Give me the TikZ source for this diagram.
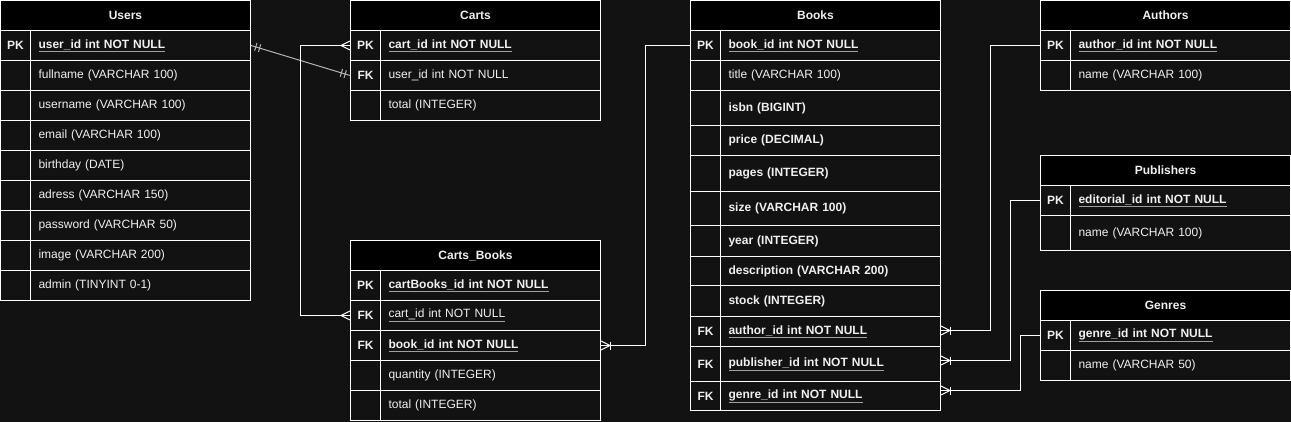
\documentclass[tikz,border=0pt]{standalone}
\usepackage{fontspec}
\setmainfont{Liberation Sans}
\usetikzlibrary{calc}
\definecolor{bg}{HTML}{121212}
\definecolor{txt}{HTML}{F0F0F0}
\definecolor{ulc}{HTML}{A0A0A0}
\definecolor{lnk}{HTML}{B4B4B4}
\newcommand\uln[1]{{\color{ulc}\underline{\color{txt}#1}}}
\newcommand\erow[6]{%
  \node[keyc, minimum height=#4pt] (#1k) at (#2,#3) {#5};
  \node[fldc, minimum height=#4pt] (#1) at (#2+30,#3) {#6};}
\newcommand\erbar[4][mk]{\draw[#1] ($(#2)!#4!(#3)!4pt!90:(#3)$) -- ($(#2)!#4!(#3)!4pt!-90:(#3)$);}
\newcommand\ercrow[3][mk]{\draw[#1] ($(#2)!4.5pt!90:(#3)$) -- ($(#2)!9pt!(#3)$) -- ($(#2)!4.5pt!-90:(#3)$);}
\tikzset{
  cellfont/.style={font=\fontsize{12pt}{14pt}\selectfont},
  hdr/.style={draw=white, fill=black, line width=1pt, minimum width=250pt, minimum height=30pt,
    anchor=north west, inner sep=0pt, text=txt, font=\fontsize{12pt}{14pt}\selectfont\bfseries},
  keyc/.style={draw=white, line width=1pt, minimum width=30pt, anchor=north west, inner sep=0pt,
    text=txt, font=\fontsize{12pt}{14pt}\selectfont\bfseries},
  fldc/.style={draw=white, line width=1pt, minimum width=220pt, text width=204pt, align=left,
    inner xsep=8pt, inner ysep=0pt, anchor=north west, text=txt, cellfont},
  conn/.style={draw=white, line width=1pt},
  mk/.style={draw=white, line width=1pt},
  mkg/.style={draw=lnk, line width=1pt},
}
\begin{document}
\begin{tikzpicture}[x=1pt, y=-1pt]
\fill[bg] (0,0) rectangle (1291,422);
\useasboundingbox (0,0) rectangle (1291,422);

% Users
\node[hdr] (u0) at (0,0) {Users};
\erow{u1}{0}{30}{30}{PK}{\textbf{\uln{user\_id int NOT NULL}}}
\erow{u2}{0}{60}{30}{}{fullname (VARCHAR 100)}
\erow{u3}{0}{90}{30}{}{username (VARCHAR 100)}
\erow{u4}{0}{120}{30}{}{email (VARCHAR 100)}
\erow{u5}{0}{150}{30}{}{birthday (DATE)}
\erow{u6}{0}{180}{30}{}{adress (VARCHAR 150)}
\erow{u7}{0}{210}{30}{}{password (VARCHAR 50)}
\erow{u8}{0}{240}{30}{}{image (VARCHAR 200)}
\erow{u9}{0}{270}{30}{}{admin (TINYINT 0-1)}

% Carts
\node[hdr] (c0) at (350,0) {Carts};
\erow{c1}{350}{30}{30}{PK}{\textbf{\uln{cart\_id int NOT NULL}}}
\erow{c2}{350}{60}{30}{FK}{user\_id int NOT NULL}
\erow{c3}{350}{90}{30}{}{total (INTEGER)}

% Carts_Books
\node[hdr] (cb0) at (350,240) {Carts\_Books};
\erow{cb1}{350}{270}{30}{PK}{\textbf{\uln{cartBooks\_id int NOT NULL}}}
\erow{cb2}{350}{300}{30}{FK}{\uln{cart\_id int NOT NULL}}
\erow{cb3}{350}{330}{30}{FK}{\textbf{\uln{book\_id int NOT NULL}}}
\erow{cb4}{350}{360}{30}{}{quantity (INTEGER)}
\erow{cb5}{350}{390}{30}{}{total (INTEGER)}

% Books
\node[hdr] (b0) at (690,0) {Books};
\erow{b1}{690}{30}{30}{PK}{\textbf{\uln{book\_id int NOT NULL}}}
\erow{b2}{690}{60}{30}{}{title (VARCHAR 100)}
\erow{b3}{690}{90}{35}{}{\textbf{isbn (BIGINT)}}
\erow{b4}{690}{125}{30}{}{\textbf{price (DECIMAL)}}
\erow{b5}{690}{155}{36}{}{\textbf{pages (INTEGER)}}
\erow{b6}{690}{191}{34}{}{\textbf{size (VARCHAR 100)}}
\erow{b7}{690}{225}{31}{}{\textbf{year (INTEGER)}}
\erow{b8}{690}{256}{29}{}{\textbf{description (VARCHAR 200)}}
\erow{b9}{690}{285}{31}{}{\textbf{stock (INTEGER)}}
\erow{b10}{690}{316}{30}{FK}{\textbf{\uln{author\_id int NOT NULL}}}
\erow{b11}{690}{346}{35}{FK}{\textbf{\uln{publisher\_id int NOT NULL}}}
\erow{b12}{690}{381}{29}{FK}{\textbf{\uln{genre\_id int NOT NULL}}}

% Authors
\node[hdr] (a0) at (1040,0) {Authors};
\erow{a1}{1040}{30}{30}{PK}{\textbf{\uln{author\_id int NOT NULL}}}
\erow{a2}{1040}{60}{30}{}{name (VARCHAR 100)}

% Publishers
\node[hdr] (p0) at (1040,155) {Publishers};
\erow{p1}{1040}{185}{30}{PK}{\textbf{\uln{editorial\_id int NOT NULL}}}
\erow{p2}{1040}{215}{35}{}{name (VARCHAR 100)}

% Genres
\node[hdr] (g0) at (1040,290) {Genres};
\erow{g1}{1040}{320}{30}{PK}{\textbf{\uln{genre\_id int NOT NULL}}}
\erow{g2}{1040}{350}{30}{}{name (VARCHAR 50)}

% Connector 1: Users.user_id -- Carts.user_id (one and only one, both ends)
\draw[mkg] (u1.east) -- (c2k.west);
\erbar[mkg]{u1.east}{c2k.west}{5pt}
\erbar[mkg]{u1.east}{c2k.west}{9pt}
\erbar[mkg]{c2k.west}{u1.east}{5pt}
\erbar[mkg]{c2k.west}{u1.east}{9pt}

% Connector 2: Carts.cart_id -- Carts_Books.cart_id (many, both ends)
\coordinate (j2a) at ($(c1k.west)+(-50,0)$);
\coordinate (j2b) at (j2a |- cb2k.west);
\draw[conn] (c1k.west) -- (j2a) -- (j2b) -- (cb2k.west);
\ercrow{c1k.west}{j2a}
\ercrow{cb2k.west}{j2b}

% Connector 3: Books.book_id -- Carts_Books.book_id (one to many)
\coordinate (j3a) at ($(b1k.west)+(-45,0)$);
\coordinate (j3b) at (j3a |- cb3.east);
\draw[conn] (b1k.west) -- (j3a) -- (j3b) -- (cb3.east);
\ercrow{cb3.east}{j3b}
\erbar{cb3.east}{j3b}{9pt}

% Connector 4: Authors -- Books.author_id
\coordinate (e4) at ([yshift=1pt]b10.east);
\coordinate (j4a) at ($(a1k.west)+(-50,0)$);
\coordinate (j4b) at (j4a |- e4);
\draw[conn] (a1k.west) -- (j4a) -- (j4b) -- (e4);
\ercrow{e4}{j4b}
\erbar{e4}{j4b}{9pt}

% Connector 5: Publishers -- Books.publisher_id
\coordinate (e5) at ([yshift=3.5pt]b11.east);
\coordinate (j5a) at ($(p1k.west)+(-30,0)$);
\coordinate (j5b) at (j5a |- e5);
\draw[conn] (p1k.west) -- (j5a) -- (j5b) -- (e5);
\ercrow{e5}{j5b}
\erbar{e5}{j5b}{9pt}

% Connector 6: Genres -- Books.genre_id
\coordinate (e6) at ([yshift=5.5pt]b12.east);
\coordinate (j6a) at ($(g1k.west)+(-20,0)$);
\coordinate (j6b) at (j6a |- e6);
\draw[conn] (g1k.west) -- (j6a) -- (j6b) -- (e6);
\ercrow{e6}{j6b}
\erbar{e6}{j6b}{9pt}
\end{tikzpicture}
\end{document}
